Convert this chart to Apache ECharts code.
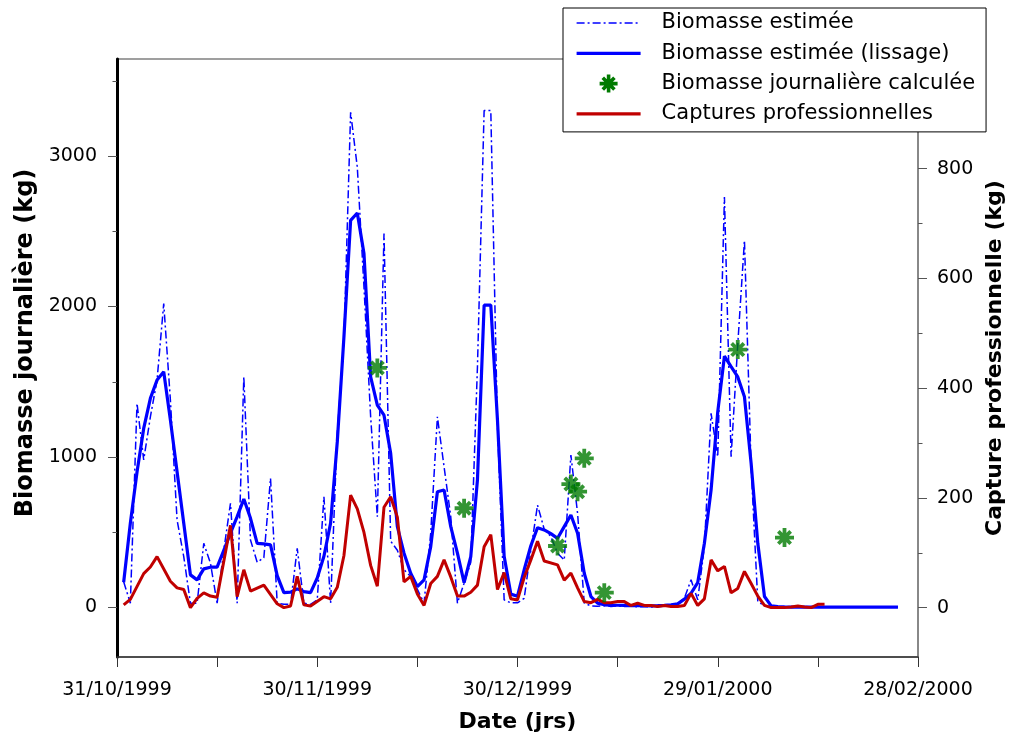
<!DOCTYPE html>
<html><head><meta charset="utf-8">
<script src="https://cdn.jsdelivr.net/npm/echarts@6/dist/echarts.min.js"></script>
<style>html,body{margin:0;padding:0;background:#fff}#c{width:1016px;height:742px}</style>
</head><body><div id="c"></div><script>
// ---- data (daily, first value = 01/11/1999) ----
const startDate = '1999-11-01';
const biomasseEstimee = [
 170,28,1356,980,1267,1511,2020,1378,581,337,
 28,28,426,293,28,380,692,28,1532,448,
 300,330,858,28,20,20,393,28,20,50,
 735,28,1159,1776,3292,2927,2130,1267,603,2485,
 440,380,250,205,120,28,494,1267,935,603,
 28,161,300,1600,3303,3303,1200,50,30,30,
 60,380,680,520,470,360,315,1013,625,28,
 10,8,12,6,10,5,8,4,6,3,
 5,8,14,25,60,183,50,404,1290,1001,
 2728,1001,1750,2440,935,39,10,4,2,2,
 1,2,1,1,2,1,1,0,1,1,0,1,0,0,1,0,0
];
const biomasseLissage = [
 167,560,900,1190,1390,1511,1566,1245,902,559,
 216,183,256,267,267,380,493,603,720,592,
 426,422,415,211,98,101,123,105,98,195,
 340,560,1100,1800,2573,2622,2352,1533,1345,1278,
 1024,537,360,227,138,183,404,769,780,537,
 360,165,337,847,2009,2009,1245,340,88,74,
 250,410,530,515,490,459,537,614,493,227,
 72,28,17,15,14,13,12,11,11,10,
 11,13,17,23,55,94,165,426,780,1300,
 1670,1600,1532,1400,957,426,72,10,5,3,
 2,2,1,1,1,1,1,1,1,1,1,1,1,1,1,1,1
];
const captures = [
 5,15,null,62,74,93,null,48,36,33,
 0,17,27,21,19,null,150,20,69,30,
 null,41,null,7,0,3,57,5,3,null,
 20,16,37,95,205,180,137,77,39,183,
 202,165,47,57,25,4,44,57,87,56,
 21,21,28,41,111,133,33,64,16,14,
 55,87,121,85,null,78,50,63,36,11,
 9,15,9,9,11,11,4,8,4,4,
 2,4,2,2,4,26,4,16,87,67,
 75,27,35,66,44,21,4,0,0,0,
 1,3,1,0,6,6
];
const calcDates = ['1999-12-09','1999-12-22','2000-01-05','2000-01-07','2000-01-08','2000-01-09','2000-01-12','2000-02-01','2000-02-08'];
const calcValues = [1592,659,408,820,769,991,98,1714,464];
const xTickDays = [0,30,60,90,120];
const leftMajorTicks = [0,1000,2000,3000];
const leftMinorTicks = [500,1500,2500,3500];
const rightMajorTicks = [0,200,400,600,800];
const rightMinorTicks = [100,300,500,700,900];
const seriesNames = ['Biomasse estimée','Biomasse estimée (lissage)','Biomasse journalière calculée','Captures professionnelles'];

// ---- helpers ----
const DAY = 86400000;
const origin = Date.UTC(1999, 9, 31);
function dayOf(s){const p=s.split('-').map(Number);return Math.round((Date.UTC(p[0],p[1]-1,p[2])-origin)/DAY);}
function pad(n){return (n<10?'0':'')+n;}
function fmt(v){const d=new Date(origin+v*DAY);return pad(d.getUTCDate())+'/'+pad(d.getUTCMonth()+1)+'/'+d.getUTCFullYear();}
const s0 = dayOf(startDate);
const toPairs = arr => arr.map((v,i)=>[s0+i, v]);

const FONT = 'DejaVu Sans';
const ASTER = 'path://M8,0L12,0L12,20L8,20Z M0,8L20,8L20,12L0,12Z M4.94,2.11L17.89,15.06L15.06,17.89L2.11,4.94Z M15.06,2.11L17.89,4.94L4.94,17.89L2.11,15.06Z';

const chart = echarts.init(document.getElementById('c'), null, {renderer:'canvas'});
const minorAxis = (pos, mn, mx, ticks) => ({
  type:'value', position:pos, min:mn, max:mx,
  axisLine:{show:false}, axisLabel:{show:false}, splitLine:{show:false},
  axisTick:{show:true, customValues:ticks, length:4.5, lineStyle:{color:'#555', width:1}}
});
chart.setOption({
  animation:false,
  backgroundColor:'#fff',
  textStyle:{fontFamily:FONT},
  grid:{left:117, right:98, top:59, bottom:85, show:true, borderColor:'#808080', borderWidth:1.5, backgroundColor:'transparent'},
  legend:{
    orient:'vertical', left:563, top:8,
    itemWidth:64, itemHeight:18, itemGap:8.3,
    padding:[4,11,7,12],
    backgroundColor:'#fff', borderColor:'#000', borderWidth:1, borderRadius:0,
    itemStyle:{opacity:0},
    textStyle:{fontFamily:FONT, fontSize:21, color:'#000', lineHeight:22, padding:[0,0,0,16]},
    data:[
      {name:seriesNames[0], lineStyle:{width:1.5}},
      {name:seriesNames[1], lineStyle:{width:3.2}},
      {name:seriesNames[2], icon:ASTER, itemStyle:{opacity:1, color:'#007a00'}},
      {name:seriesNames[3], lineStyle:{width:3.2}}
    ],
    z:20
  },
  xAxis:{
    type:'value', min:0, max:120, interval:15,
    axisLine:{onZero:false, lineStyle:{color:'#333', width:1.5}},
    axisTick:{length:10, lineStyle:{color:'#333'}},
    axisLabel:{margin:24, fontSize:19, color:'#000', fontFamily:FONT,
      formatter:v => xTickDays.indexOf(v) >= 0 ? fmt(v) : ''},
    splitLine:{show:false},
    name:'Date (jrs)', nameLocation:'middle', nameGap:54,
    nameTextStyle:{fontSize:22, fontWeight:'bold', color:'#000', fontFamily:FONT}
  },
  yAxis:[
    {type:'value', position:'left', min:-330, max:3646,
     axisLine:{show:true, onZero:false, lineStyle:{color:'#000', width:3}},
     axisTick:{show:true, customValues:leftMajorTicks, length:9, lineStyle:{color:'#555'}},
     axisLabel:{customValues:leftMajorTicks, margin:20, fontSize:19, color:'#000', fontFamily:FONT, formatter:v => String(v)},
     splitLine:{show:false},
     name:'Biomasse journalière (kg)', nameLocation:'middle', nameGap:77,
     nameTextStyle:{fontSize:24, fontWeight:'bold', color:'#000', fontFamily:FONT, padding:[0,0,0,30]}},
    {type:'value', position:'right', min:-90, max:1000,
     axisLine:{show:true, onZero:false, lineStyle:{color:'#808080', width:1.5}},
     axisTick:{show:true, customValues:rightMajorTicks, length:9, lineStyle:{color:'#555'}},
     axisLabel:{customValues:rightMajorTicks, margin:19, fontSize:19, color:'#000', fontFamily:FONT, formatter:v => String(v)},
     splitLine:{show:false},
     name:'Capture professionnelle (kg)', nameLocation:'middle', nameGap:65,
     nameTextStyle:{fontSize:22, fontWeight:'bold', color:'#000', fontFamily:FONT}},
    minorAxis('left', -330, 3646, leftMinorTicks),
    minorAxis('right', -90, 1000, rightMinorTicks)
  ],
  series:[
    {name:seriesNames[0], type:'line', data:toPairs(biomasseEstimee), yAxisIndex:0,
     symbol:'none', showSymbol:false, connectNulls:true,
     lineStyle:{color:'#0000ff', width:1.5, type:[8,3,2,3]}, itemStyle:{color:'#0000ff'}, z:2},
    {name:seriesNames[1], type:'line', data:toPairs(biomasseLissage), yAxisIndex:0,
     symbol:'none', showSymbol:false,
     lineStyle:{color:'#0000ff', width:3.2}, itemStyle:{color:'#0000ff'}, z:3},
    {name:seriesNames[2], type:'scatter', yAxisIndex:0,
     data:calcDates.map((d,i)=>[dayOf(d), calcValues[i]]),
     symbol:ASTER, symbolSize:19, itemStyle:{color:'#007a00'}, z:5},
    {name:seriesNames[3], type:'line', data:toPairs(captures), yAxisIndex:1,
     symbol:'none', showSymbol:false, connectNulls:true,
     lineStyle:{color:'#c00000', width:3}, itemStyle:{color:'#c00000'}, z:4}
  ]
});
</script></body></html>
